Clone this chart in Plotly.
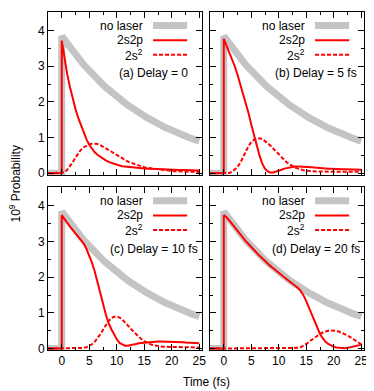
import plotly.graph_objects as go
from plotly.subplots import make_subplots

# time axis (fs): flat before the pulse, jump at t = 0, then every 0.5 fs
time = [-2.5, 0,
        0, 0.5, 1, 1.5, 2, 2.5, 3, 3.5, 4, 4.5,
        5, 5.5, 6, 6.5, 7, 7.5, 8, 8.5, 9, 9.5,
        10, 10.5, 11, 11.5, 12, 12.5, 13, 13.5, 14, 14.5,
        15, 15.5, 16, 16.5, 17, 17.5, 18, 18.5, 19, 19.5,
        20, 20.5, 21, 21.5, 22, 22.5, 23, 23.5, 24, 24.5,
        25]

no_laser = [0, 0,
            3.84, 3.73, 3.62, 3.52, 3.42, 3.32, 3.23, 3.13, 3.04, 2.96,
            2.87, 2.79, 2.71, 2.63, 2.56, 2.48, 2.41, 2.34, 2.28, 2.21,
            2.15, 2.09, 2.03, 1.97, 1.91, 1.86, 1.80, 1.75, 1.70, 1.65,
            1.61, 1.56, 1.52, 1.47, 1.43, 1.39, 1.35, 1.31, 1.27, 1.24,
            1.20, 1.17, 1.13, 1.10, 1.07, 1.04, 1.01, 0.98, 0.95, 0.92,
            0.90]

s2p_a = [0, 0,
         3.72, 3.20, 2.77, 2.41, 2.09, 1.80, 1.55, 1.33, 1.13, 0.95,
         0.80, 0.68, 0.59, 0.52, 0.46, 0.41, 0.36, 0.32, 0.29, 0.26,
         0.24, 0.22, 0.20, 0.19, 0.18, 0.17, 0.16, 0.15, 0.145, 0.14,
         0.135, 0.13, 0.125, 0.12, 0.115, 0.11, 0.11, 0.105, 0.10, 0.10,
         0.095, 0.095, 0.09, 0.09, 0.09, 0.085, 0.085, 0.08, 0.08, 0.08,
         0.075]
s2_a = [0, 0,
        0, 0.02, 0.10, 0.20, 0.31, 0.44, 0.56, 0.66, 0.73, 0.78,
        0.81, 0.83, 0.83, 0.82, 0.79, 0.75, 0.71, 0.66, 0.61, 0.56,
        0.51, 0.46, 0.42, 0.37, 0.33, 0.30, 0.27, 0.24, 0.21, 0.19,
        0.17, 0.15, 0.14, 0.12, 0.11, 0.10, 0.09, 0.08, 0.075, 0.07,
        0.065, 0.06, 0.055, 0.05, 0.05, 0.045, 0.045, 0.04, 0.04, 0.04,
        0.035]

s2p_b = [0, 0,
         3.77, 3.58, 3.40, 3.21, 3.00, 2.76, 2.51, 2.26, 2.00, 1.69,
         1.37, 1.07, 0.77, 0.50, 0.27, 0.13, 0.05, 0.02, 0.02, 0.04,
         0.07, 0.10, 0.13, 0.15, 0.17, 0.18, 0.19, 0.19, 0.19, 0.18,
         0.18, 0.17, 0.17, 0.16, 0.15, 0.15, 0.14, 0.14, 0.13, 0.13,
         0.12, 0.12, 0.12, 0.11, 0.11, 0.11, 0.10, 0.10, 0.10, 0.10,
         0.10]
s2_b = [0, 0,
        0, 0, 0.01, 0.04, 0.10, 0.18, 0.29, 0.45, 0.62, 0.76,
        0.87, 0.94, 0.97, 0.98, 0.96, 0.91, 0.84, 0.77, 0.69, 0.60,
        0.52, 0.44, 0.37, 0.30, 0.25, 0.20, 0.16, 0.13, 0.10, 0.085,
        0.07, 0.06, 0.055, 0.05, 0.05, 0.05, 0.045, 0.045, 0.045, 0.04,
        0.04, 0.04, 0.04, 0.04, 0.04, 0.04, 0.04, 0.04, 0.04, 0.04,
        0.04]

s2p_c = [0, 0,
         3.74, 3.62, 3.52, 3.42, 3.33, 3.23, 3.15, 3.06, 2.94, 2.79,
         2.61, 2.40, 2.16, 1.88, 1.57, 1.26, 0.96, 0.72, 0.55, 0.39,
         0.26, 0.16, 0.11, 0.08, 0.08, 0.09, 0.11, 0.13, 0.15, 0.16,
         0.17, 0.18, 0.19, 0.19, 0.20, 0.20, 0.20, 0.20, 0.20, 0.20,
         0.19, 0.19, 0.19, 0.18, 0.18, 0.17, 0.17, 0.16, 0.16, 0.15,
         0.15]
s2_c = [0, 0,
        0, 0, 0, 0, 0, 0, 0, 0.01, 0.02, 0.04,
        0.07, 0.12, 0.19, 0.29, 0.40, 0.53, 0.66, 0.77, 0.85, 0.89,
        0.90, 0.87, 0.81, 0.74, 0.65, 0.56, 0.48, 0.40, 0.33, 0.26,
        0.21, 0.16, 0.13, 0.10, 0.08, 0.07, 0.06, 0.05, 0.05, 0.045,
        0.045, 0.04, 0.04, 0.04, 0.035, 0.035, 0.035, 0.03, 0.03, 0.03,
        0.03]

s2p_d = [0, 0,
         3.74, 3.68, 3.59, 3.49, 3.39, 3.29, 3.20, 3.10, 3.01, 2.93,
         2.84, 2.76, 2.68, 2.60, 2.53, 2.45, 2.38, 2.31, 2.25, 2.18,
         2.12, 2.06, 2.00, 1.94, 1.89, 1.83, 1.77, 1.70, 1.61, 1.49,
         1.33, 1.14, 0.94, 0.74, 0.56, 0.41, 0.29, 0.19, 0.13, 0.08,
         0.05, 0.03, 0.02, 0.01, 0.01, 0.02, 0.03, 0.05, 0.07, 0.09,
         0.11]
s2_d = [0, 0,
        0, 0, 0, 0, 0, 0, 0, 0, 0, 0,
        0, 0, 0, 0, 0, 0, 0, 0, 0, 0,
        0, 0, 0, 0, 0, 0, 0.01, 0.02, 0.04, 0.08,
        0.13, 0.19, 0.25, 0.31, 0.36, 0.41, 0.45, 0.48, 0.50, 0.51,
        0.51, 0.50, 0.47, 0.44, 0.41, 0.37, 0.32, 0.27, 0.22, 0.17,
        0.12]

panel_labels = ["(a) Delay = 0", "(b) Delay = 5 fs", "(c) Delay = 10 fs", "(d) Delay = 20 fs"]
s2p_all = [s2p_a, s2p_b, s2p_c, s2p_d]
s2_all = [s2_a, s2_b, s2_c, s2_d]
legend_names = ["no laser", "2s2p", "2s<sup>2</sup>"]

FONT = "Liberation Sans, Arial, sans-serif"
GRAY = "#c4c4c4"
RED = "#ff0000"

fig = make_subplots(rows=2, cols=2, horizontal_spacing=8 / 316, vertical_spacing=12.6 / 338)

for i in range(4):
    r, c = i // 2 + 1, i % 2 + 1
    fig.add_trace(go.Scatter(x=time, y=no_laser, mode="lines", line=dict(color=GRAY, width=7),
                             showlegend=False), row=r, col=c)
    fig.add_trace(go.Scatter(x=time, y=s2p_all[i], mode="lines", line=dict(color=RED, width=2),
                             showlegend=False), row=r, col=c)
    fig.add_trace(go.Scatter(x=time, y=s2_all[i], mode="lines",
                             line=dict(color=RED, width=2, dash="4px,2px"),
                             showlegend=False), row=r, col=c)

    # key drawn gnuplot style: text on the left, sample on the right
    key_y = [4.14, 3.73, 3.32]
    key_style = [dict(color=GRAY, width=7), dict(color=RED, width=2),
                 dict(color=RED, width=2, dash="4px,2px")]
    for name, ky, st in zip(legend_names, key_y, key_style):
        fig.add_annotation(x=15.1, y=ky, text=name, showarrow=False, xanchor="right",
                           yanchor="middle",
                           font=dict(size=12, color="black", family=FONT), row=r, col=c)
        fig.add_shape(type="line", x0=16.6, x1=22.8, y0=ky, y1=ky, line=st, row=r, col=c)
    fig.add_annotation(x=16.7, y=2.8, text=panel_labels[i], showarrow=False, xanchor="center",
                       yanchor="middle",
                       font=dict(size=12, color="black", family=FONT), row=r, col=c)

fig.update_xaxes(range=[-2.5, 25.5], tick0=0, dtick=5, ticks="inside", ticklen=6,
                 minor=dict(dtick=2.5, ticks="inside", ticklen=3, tickcolor="black"),
                 mirror="allticks", showline=True, linecolor="black", linewidth=1,
                 tickcolor="black", showgrid=False, zeroline=False,
                 tickfont=dict(size=12, color="black", family=FONT))
fig.update_yaxes(range=[-0.04, 4.52], tick0=0, dtick=1, ticks="inside", ticklen=6,
                 minor=dict(dtick=0.5, ticks="inside", ticklen=3, tickcolor="black"),
                 mirror="allticks", showline=True, linecolor="black", linewidth=1,
                 tickcolor="black", showgrid=False, zeroline=False,
                 tickfont=dict(size=12, color="black", family=FONT))
fig.update_xaxes(showticklabels=False, row=1)
fig.update_yaxes(showticklabels=False, col=2)

fig.add_annotation(xref="paper", yref="paper", x=0.5, y=-0.095, text="Time (fs)",
                   xanchor="center", yanchor="middle",
                   showarrow=False, font=dict(size=12, color="black", family=FONT))
fig.add_annotation(xref="paper", yref="paper", x=-0.104, y=0.49, text="10<sup>9</sup> Probability",
                   xanchor="center", yanchor="middle",
                   showarrow=False, textangle=-90, font=dict(size=12, color="black", family=FONT))

# the page adds an 8 px body margin, so the figure is 8 px smaller than the window
fig.update_layout(width=366, height=383, margin=dict(l=40, r=10, t=4, b=41),
                  plot_bgcolor="white", paper_bgcolor="white", showlegend=False,
                  font=dict(family=FONT, size=12, color="black"))

fig.write_html("out.html")
